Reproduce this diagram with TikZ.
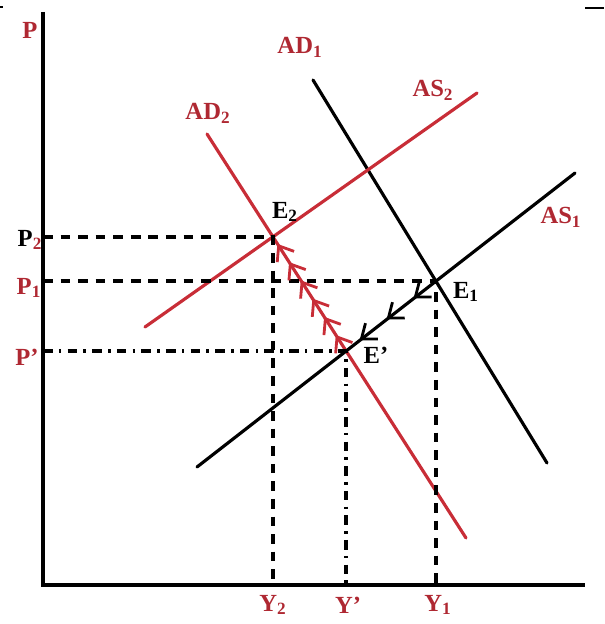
\documentclass[tikz,border=0pt]{standalone}
\usepackage{fontspec}
\setmainfont{Liberation Serif}
\usetikzlibrary{arrows.meta,decorations.markings}
\definecolor{curvered}{RGB}{200,45,55}
\definecolor{labelred}{RGB}{175,40,50}
\tikzset{
    axis line/.style={line width=2.6pt},
    curve/.style={line width=1.8pt,line cap=round},
    guide/.style={line width=2.1pt,dash pattern=on 5.5pt off 4.5pt},
    guide dot/.style={line width=2.1pt,dash pattern=on 5.5pt off 3.5pt on 1.5pt off 3.5pt},
    curve label/.style={font=\bfseries\fontsize{14}{16}\selectfont,text=labelred,inner sep=0pt},
    point label/.style={font=\bfseries\fontsize{14}{16}\selectfont,inner sep=0pt},
    barb/.tip={Straight Barb[length=2.6mm,width=4mm,line width=1.6pt]}
}

\begin{document}
\begin{tikzpicture}[x=0.02cm,y=-0.02cm]
\useasboundingbox (0,0) rectangle (604,624);
% axes
\coordinate (O) at (43,585);
\coordinate (top) at (43,12);
\coordinate (right) at (585,585);
\draw[axis line] (top) -- (O) -- (right);
\draw[line width=1.2pt] (585,8) -- (604,8);
\draw[line width=1.2pt] (0,7) -- (3,7);
% curves
\coordinate (ad1a) at (313,80);  \coordinate (ad1b) at (547,463);
\coordinate (as1a) at (197,467); \coordinate (as1b) at (575,173);
\coordinate (ad2a) at (207,134); \coordinate (ad2b) at (466,538);
\coordinate (as2a) at (145,327); \coordinate (as2b) at (477,93);
\draw[curve] (ad1a) -- (ad1b);
\draw[curve] (as1a) -- (as1b);
\draw[curve,curvered] (ad2a) -- (ad2b);
\draw[curve,curvered] (as2a) -- (as2b);
% equilibria
\coordinate (E2) at (273,237);
\coordinate (E1) at (436,281);
\coordinate (Ep) at (346,351);
\draw[guide] (E2 -| O) -- (E2) -- (E2 |- O);
\draw[guide] (E1 -| O) -- (E1) -- (E1 |- O);
\draw[guide dot] (Ep -| O) -- (Ep) -- (Ep |- O);
% adjustment arrows
\path[postaction={decorate},decoration={markings,
    mark=between positions 0.14 and 0.96 step 0.16 with {\arrow[curvered]{barb}}}] (Ep) -- (E2);
\path[postaction={decorate},decoration={markings,
    mark=between positions 0.25 and 0.9 step 0.3 with {\arrow{barb}}}] (E1) -- (Ep);
% labels
\node[curve label] (lP) at (30,30) {P};
\node[curve label] (lAD1) at (300,47) {AD\textsubscript{1}};
\node[curve label] (lAD2) at (208,113) {AD\textsubscript{2}};
\node[curve label] (lAS2) at (433,90) {AS\textsubscript{2}};
\node[curve label] (lAS1) at (561,217) {AS\textsubscript{1}};
\node[point label] (lE2) at (285,212) {E\textsubscript{2}};
\node[point label] (lE1) at (466,292) {E\textsubscript{1}};
\node[point label] (lEp) at (376,355) {E'};
\node[point label] (lP2) at (30,240) {P\textsubscript{\color{labelred}2}};
\node[curve label] (lP1) at (29,288) {P\textsubscript{1}};
\node[curve label] (lPp) at (27,357) {P'};
\node[curve label] (lY2) at (273,605) {Y\textsubscript{2}};
\node[curve label] (lYp) at (348,605) {Y'};
\node[curve label] (lY1) at (438,605) {Y\textsubscript{1}};
\end{tikzpicture}
\end{document}
